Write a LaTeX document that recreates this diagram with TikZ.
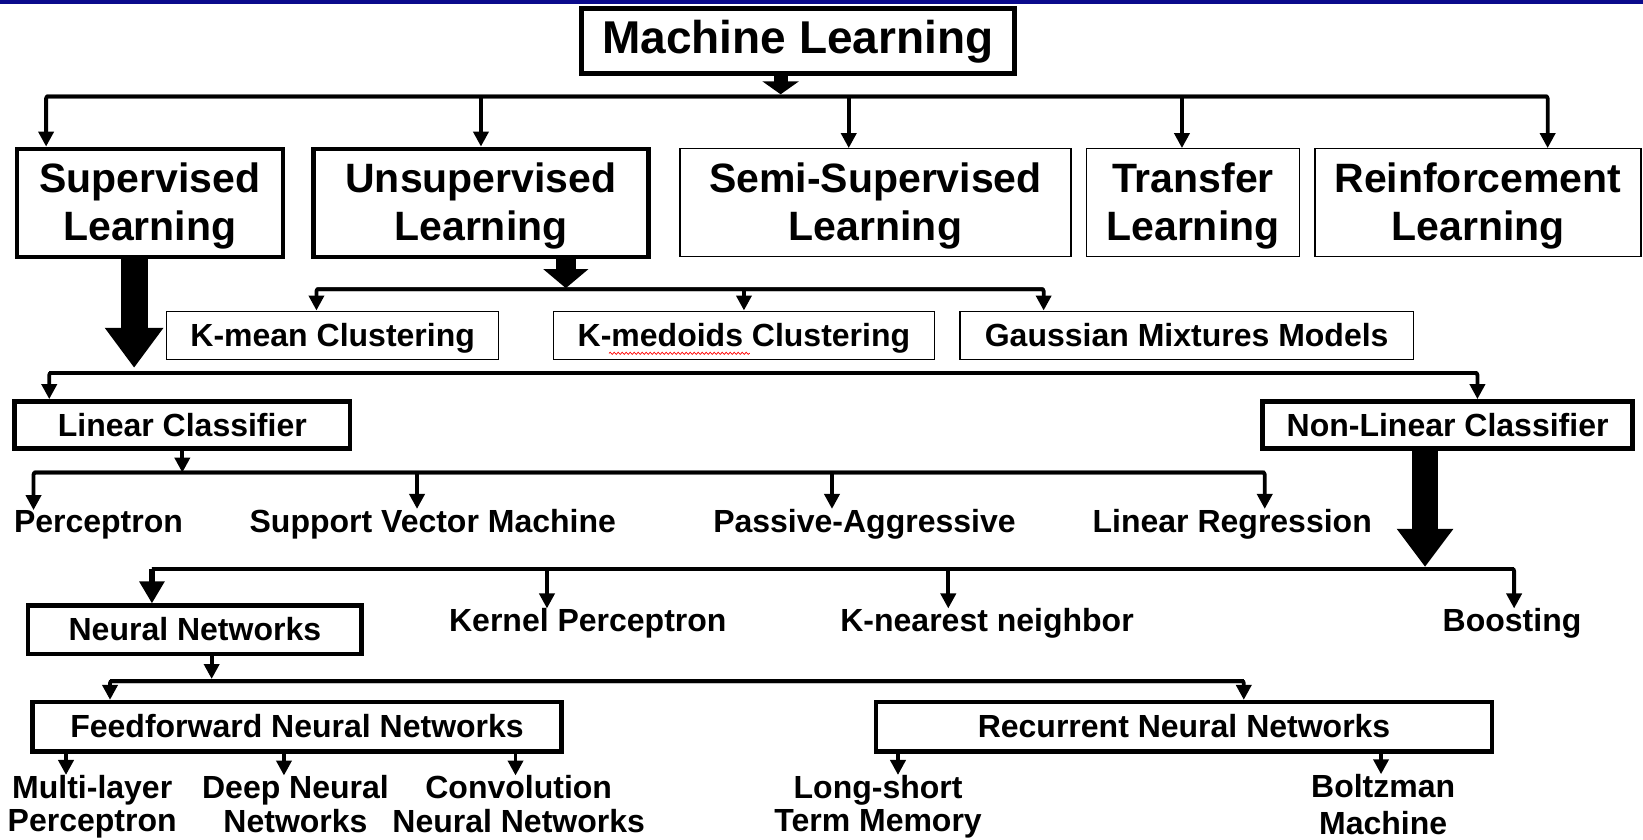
\documentclass[tikz,border=0pt]{standalone}
\usepackage{fontspec}
\setmainfont{Liberation Sans}
\usetikzlibrary{arrows.meta,decorations.pathmorphing}
\definecolor{topbar}{RGB}{10,10,140}
\tikzset{
  bx/.style 2 args={minimum width=#1*1.0478pt, minimum height=#2*1.0478pt},
  thickbox/.style={draw, line width=4.4pt, inner sep=0pt, align=center},
  thinbox/.style={draw, line width=1.4pt, inner sep=0pt, align=center},
  oneT/.style={text height=34pt, text depth=9pt},
  oneB/.style={text height=26.4pt, text depth=4pt},
  lbl/.style={inner sep=0pt, align=center},
  fT/.style={font=\fontsize{46}{50}\selectfont\bfseries},
  fA/.style={font=\fontsize{41}{48}\selectfont\bfseries},
  fB/.style={font=\fontsize{32}{33.5}\selectfont\bfseries},
  conn/.style={line width=3.8pt, rounded corners=2pt},
  arr/.style={conn, -{Triangle[width=15pt,length=15pt]}}
}
\begin{document}
\begin{tikzpicture}[x=1.0478pt,y=-1.0478pt]
\useasboundingbox (0,0) rectangle (1568,801);
\fill[topbar] (0,0) rectangle (1568,4);

% ---------- level 0 / 1
\node[thickbox, fT, oneT, bx={413}{62}] (ml) at (761.5,39) {Machine Learning};
\node[thickbox, fA, bx={254}{103}] (sup) at (143,193.5) {\rule{0pt}{36pt}Supervised\\Learning};
\node[thickbox, fA, bx={320}{103}] (unsup) at (459,193.5) {\rule{0pt}{36pt}Unsupervised\\Learning};
\node[thinbox, fA, bx={373}{103}] (semi) at (835.5,193.5) {\rule{0pt}{36pt}Semi-Supervised\\Learning};
\node[thinbox, fA, bx={203}{103}] (transfer) at (1138.5,193.5) {\rule{0pt}{36pt}Transfer\\Learning};
\node[thinbox, fA, bx={311}{103}] (reinf) at (1410.5,193.5) {\rule{0pt}{36pt}Reinforcement\\Learning};

% ---------- unsupervised children
\node[thinbox, fB, oneB, bx={317}{46}] (kmean) at (317.5,320) {K-mean Clustering};
\node[thinbox, fB, oneB, bx={364}{46}] (kmed) at (710,320) {K-medoids Clustering};
\node[thinbox, fB, oneB, bx={433}{46}] (gmm) at (1132.5,320) {Gaussian Mixtures Models};
\draw[red, line width=0.7pt, decorate, decoration={snake, amplitude=1.1pt, segment length=4pt}]
  ([xshift=-135pt,yshift=-18pt]kmed.center) -- ([xshift=6pt,yshift=-18pt]kmed.center);

% ---------- classifiers
\node[thickbox, fB, oneB, bx={320}{45}] (lin) at (174,405.5) {Linear Classifier};
\node[thickbox, fB, oneB, bx={353}{45}] (nonlin) at (1381.5,405.5) {Non-Linear Classifier};

\node[lbl, fB, anchor=base] (perc) at (94,508) {Perceptron};
\node[lbl, fB, anchor=base] (svm) at (413,508) {Support Vector Machine};
\node[lbl, fB, anchor=base] (pa) at (825,508) {Passive-Aggressive};
\node[lbl, fB, anchor=base] (lr) at (1176,508) {Linear Regression};

\node[thickbox, fB, oneB, bx={318}{46}] (nn) at (186,601) {Neural Networks};
\node[lbl, fB, anchor=base] (kp) at (561,603) {Kernel Perceptron};
\node[lbl, fB, anchor=base] (knn) at (942,603) {K-nearest neighbor};
\node[lbl, fB, anchor=base] (boost) at (1443,603) {Boosting};

\node[thickbox, fB, oneB, bx={505}{47}] (ff) at (283.5,693.5) {Feedforward Neural Networks};
\node[thickbox, fB, oneB, bx={588}{47}] (rnn) at (1130,693.5) {Recurrent Neural Networks};

\node[lbl, fB] (mlp) at (88,770) {Multi-layer\\Perceptron};
\node[lbl, fB] (dnn) at (282,767.5) {Deep Neural\\Networks};
\node[lbl, fB] (cnn) at (495,767.5) {Convolution\\Neural Networks};
\node[lbl, fB] (lstm) at (838,770) {Long-short\\Term Memory};
\node[lbl, font=\fontsize{32}{37}\selectfont\bfseries] (bm) at (1320,768) {Boltzman\\Machine};

% ---------- bus 1
\coordinate (a0) at (745,90);
\coordinate (b1a) at (44,92);
\coordinate (b1e) at (1477,92);
\coordinate (d1c) at (810,92);
\coordinate (d1d) at (1128,92);
\draw[line width=14pt, -{Triangle[width=36pt,length=13pt]}] (ml.south -| a0) -- (a0);
\draw[arr] (b1e) -- (b1a) -- (b1a |- sup.north);
\draw[arr] (b1a) -- (b1e) -- (b1e |- reinf.north);
\draw[arr] (unsup.north |- b1a) -- (unsup.north);
\draw[arr] (d1c) -- (d1c |- semi.north);
\draw[arr] (d1d) -- (d1d |- transfer.north);

% ---------- bus 2
\coordinate (a2) at (540,275);
\coordinate (b2a) at (302,276);
\coordinate (b2e) at (996,276);
\draw[line width=20pt, -{Triangle[width=44pt,length=19pt]}] (unsup.south -| a2) -- (a2);
\draw[arr] (b2e) -- (b2a) -- (b2a |- kmean.north);
\draw[arr] (b2a) -- (b2e) -- (b2e |- gmm.north);
\draw[arr] (kmed.north |- b2a) -- (kmed.north);

% ---------- bus 3
\coordinate (a3) at (128,351);
\coordinate (b3a) at (47,356);
\coordinate (b3e) at (1410,356);
\draw[line width=27pt, -{Triangle[width=56pt,length=40pt]}] (sup.south -| a3) -- (a3);
\draw[arr] (b3e) -- (b3a) -- (b3a |- lin.north);
\draw[arr] (b3a) -- (b3e) -- (b3e |- nonlin.north);

% ---------- bus 4
\coordinate (b4a) at (32,451);
\coordinate (b4e) at (1207,451);
\coordinate (d4b) at (398,451);
\coordinate (d4c) at (794,451);
\draw[arr] (lin.south) -- (lin.south |- b4a);
\draw[arr] (b4e) -- (b4a) -- (b4a |- perc.north);
\draw[arr] (b4a) -- (b4e) -- (b4e |- lr.north);
\draw[arr] (d4b) -- (d4b |- svm.north);
\draw[arr] (d4c) -- (d4c |- pa.north);

% ---------- bus 5
\coordinate (a5) at (1360,541);
\coordinate (b5a) at (145,543);
\coordinate (b5e) at (1445,543);
\coordinate (d5b) at (522,543);
\coordinate (d5c) at (905,543);
\draw[line width=26pt, -{Triangle[width=54pt,length=38pt]}] (nonlin.south -| a5) -- (a5);
\draw[conn] (b5a) -- (b5e);
\draw[line width=6pt, -{Triangle[width=24pt,length=22pt]}] (b5a) -- (b5a |- nn.north);
\draw[arr] (b5a) -- (b5e) -- (b5e |- boost.north);
\draw[arr] (d5b) -- (d5b |- kp.north);
\draw[arr] (d5c) -- (d5c |- knn.north);

% ---------- bus 6
\coordinate (a6) at (202,648);
\coordinate (b6a) at (105,650);
\coordinate (b6e) at (1187,650);
\draw[arr] (nn.south -| a6) -- (a6);
\draw[arr] (b6e) -- (b6a) -- (b6a |- ff.north);
\draw[arr] (b6a) -- (b6e) -- (b6e |- rnn.north);

% ---------- leaves
\coordinate (l1) at (63,717);
\coordinate (l2) at (271,717);
\coordinate (l3) at (492,717);
\coordinate (l4) at (857,717);
\coordinate (l5) at (1318,717);
\draw[arr] (ff.south -| l1) -- (l1 |- mlp.north);
\draw[arr] (ff.south -| l2) -- (l2 |- dnn.north);
\draw[arr] (ff.south -| l3) -- (l3 |- cnn.north);
\draw[arr] (rnn.south -| l4) -- (l4 |- lstm.north);
\draw[arr] (rnn.south -| l5) -- (l5 |- bm.north);
\end{tikzpicture}
\end{document}
